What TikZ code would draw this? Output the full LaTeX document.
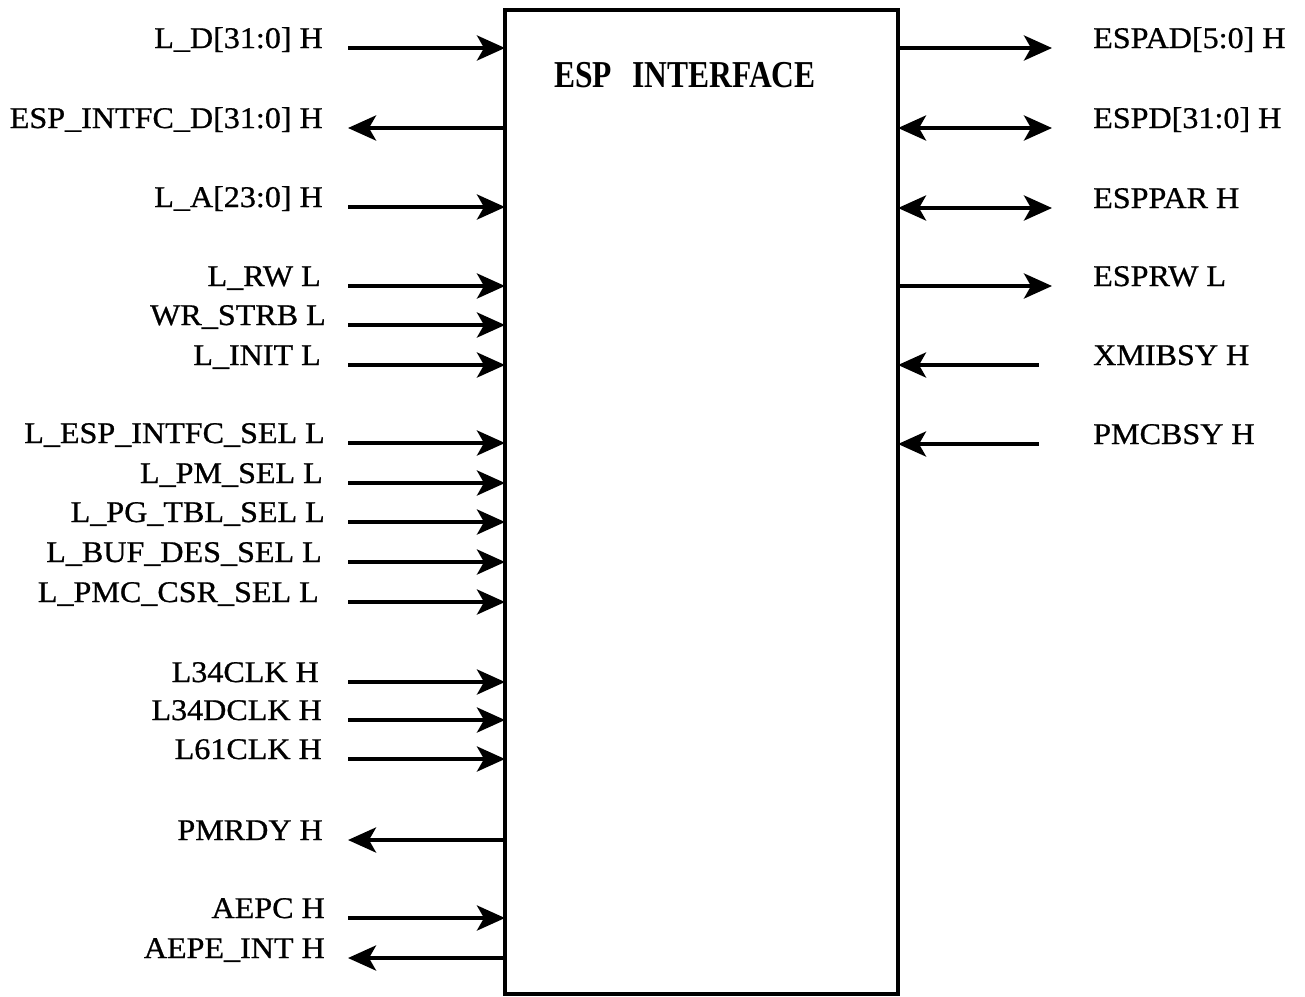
\documentclass[tikz,border=0pt]{standalone}
\usepackage{fontspec}
\setmainfont{Liberation Serif}[FakeStretch=1.07,FakeBold=0.8]
\newfontfamily\titlefont{Liberation Serif}[FakeStretch=0.83]
\usetikzlibrary{arrows.meta}
\tikzset{
  lsig/.style={line width=4pt, shorten <=25pt},
  rsig/.style={line width=4pt, shorten >=41pt},
  rin/.style={line width=4pt, shorten >=54pt},
  lname/.style={anchor=base east, inner sep=0pt},
  rname/.style={anchor=base west, inner sep=0pt},
}
\begin{document}
\begin{tikzpicture}[x=1pt,y=-1pt,font=\fontsize{30}{32}\selectfont,
    >={Stealth[length=28pt,width=25pt,inset=7pt]}]
  \useasboundingbox (0,0) rectangle (1305,996);
  \node[draw, line width=4pt, minimum width=393pt, minimum height=984pt,
        inner sep=0pt, outer sep=0pt] (esp) at (701.5,502) {};
  \node (title) at (685,75) {\fontsize{38}{38}\titlefont\bfseries ESP\hspace{20pt}INTERFACE};

  \node[lname] (ld)        at (323,48)  {L\_D[31:0] H};
  \node[lname] (espintfcd) at (323,128) {ESP\_INTFC\_D[31:0] H};
  \node[lname] (la)        at (323,207) {L\_A[23:0] H};
  \node[lname] (lrw)       at (321,286) {L\_RW L};
  \node[lname] (wrstrb)    at (326,325) {WR\_STRB L};
  \node[lname] (linit)     at (321,365) {L\_INIT L};
  \node[lname] (lespsel)   at (325,443) {L\_ESP\_INTFC\_SEL L};
  \node[lname] (lpmsel)    at (323,483) {L\_PM\_SEL L};
  \node[lname] (lpgsel)    at (325,522) {L\_PG\_TBL\_SEL L};
  \node[lname] (lbufsel)   at (322,562) {L\_BUF\_DES\_SEL L};
  \node[lname] (lpmcsel)   at (319,602) {L\_PMC\_CSR\_SEL L};
  \node[lname] (lclk)      at (319,682) {L34CLK H};
  \node[lname] (ldclk)     at (322,720) {L34DCLK H};
  \node[lname] (lsclk)     at (322,759) {L61CLK H};
  \node[lname] (pmrdy)     at (323,840) {PMRDY H};
  \node[lname] (aepc)      at (325,918) {AEPC H};
  \node[lname] (aepeint)   at (325,958) {AEPE\_INT H};

  \node[rname] (espad)  at (1093,48)  {ESPAD[5:0] H};
  \node[rname] (espd)   at (1093,128) {ESPD[31:0] H};
  \node[rname] (esppar) at (1093,208) {ESPPAR H};
  \node[rname] (esprw)  at (1093,286) {ESPRW L};
  \node[rname] (xmibsy) at (1093,365) {XMIBSY H};
  \node[rname] (pmcbsy) at (1093,444) {PMCBSY H};

  \draw[lsig,->] (ld.base east) -- (ld.base east -| esp.west);
  \draw[lsig,<-] (espintfcd.base east) -- (espintfcd.base east -| esp.west);
  \draw[lsig,->] (la.base east) -- (la.base east -| esp.west);
  \draw[lsig,shorten <=27pt,->] (lrw.base east) -- (lrw.base east -| esp.west);
  \draw[lsig,shorten <=22pt,->] (wrstrb.base east) -- (wrstrb.base east -| esp.west);
  \draw[lsig,shorten <=27pt,->] (linit.base east) -- (linit.base east -| esp.west);
  \draw[lsig,shorten <=23pt,->] (lespsel.base east) -- (lespsel.base east -| esp.west);
  \draw[lsig,->] (lpmsel.base east) -- (lpmsel.base east -| esp.west);
  \draw[lsig,shorten <=23pt,->] (lpgsel.base east) -- (lpgsel.base east -| esp.west);
  \draw[lsig,shorten <=26pt,->] (lbufsel.base east) -- (lbufsel.base east -| esp.west);
  \draw[lsig,shorten <=29pt,->] (lpmcsel.base east) -- (lpmcsel.base east -| esp.west);
  \draw[lsig,shorten <=29pt,->] (lclk.base east) -- (lclk.base east -| esp.west);
  \draw[lsig,shorten <=26pt,->] (ldclk.base east) -- (ldclk.base east -| esp.west);
  \draw[lsig,shorten <=26pt,->] (lsclk.base east) -- (lsclk.base east -| esp.west);
  \draw[lsig,<-] (pmrdy.base east) -- (pmrdy.base east -| esp.west);
  \draw[lsig,shorten <=23pt,->] (aepc.base east) -- (aepc.base east -| esp.west);
  \draw[lsig,shorten <=23pt,<-] (aepeint.base east) -- (aepeint.base east -| esp.west);

  \draw[rsig,->] (esp.east |- espad.base west) -- (espad.base west);
  \draw[rsig,<->] (esp.east |- espd.base west) -- (espd.base west);
  \draw[rsig,<->] (esp.east |- esppar.base west) -- (esppar.base west);
  \draw[rsig,->] (esp.east |- esprw.base west) -- (esprw.base west);
  \draw[rin,<-] (esp.east |- xmibsy.base west) -- (xmibsy.base west);
  \draw[rin,<-] (esp.east |- pmcbsy.base west) -- (pmcbsy.base west);
\end{tikzpicture}
\end{document}
